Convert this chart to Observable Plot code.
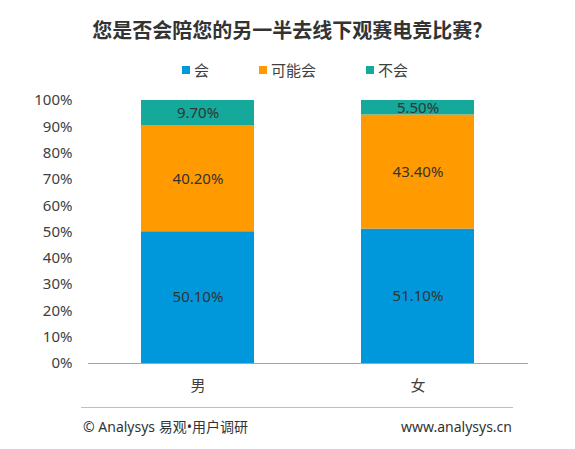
<!DOCTYPE html>
<html>
<head>
<meta charset="utf-8">
<script src="https://cdn.jsdelivr.net/npm/d3@7"></script>
<script src="https://cdn.jsdelivr.net/npm/@observablehq/plot@0.6"></script>
<style>
  html, body { margin: 0; padding: 0; background: #fff; }
  body { font-family: "Noto Sans", "Noto Sans CJK SC", sans-serif; }
  #wrap { position: relative; width: 575px; height: 449px; overflow: hidden; }
  #title { position: absolute; top: 17px; left: 0; width: 575px; text-align: center;
           font-family: "Noto Sans CJK SC", sans-serif; font-weight: bold; font-size: 20px; color: #333; line-height: 26px; }
  #legend { position: absolute; top: 60px; left: 182px; display: flex; align-items: center;
            font-family: "Noto Sans CJK SC", sans-serif; font-size: 15px; color: #404040; line-height: 20px; }
  #legend .item { display: flex; align-items: center; margin-right: 50px; }
  #legend .sw { width: 8px; height: 8px; margin-right: 4px; }
  #chart { position: absolute; top: 85px; left: 0; }
  #footline { position: absolute; top: 407px; left: 81px; width: 432px; height: 0; border-top: 1px solid #c0c0c0; }
  #footl { position: absolute; top: 417px; left: 83px; font-size: 14px; color: #333; line-height: 20px; }
  #footr { position: absolute; top: 417px; right: 63px; font-size: 14px; color: #333; line-height: 20px; }
</style>
</head>
<body>
<div id="wrap">
  <div id="title">您是否会陪您的另一半去线下观赛电竞比赛?</div>
  <div id="legend"></div>
  <div id="chart"></div>
  <div id="footline"></div>
  <div id="footl">© Analysys 易观•用户调研</div>
  <div id="footr">www.analysys.cn</div>
</div>
<script>
const genders = ["男", "女"];
const categories = ["会", "可能会", "不会"];
const maleValues = [50.1, 40.2, 9.7];
const femaleValues = [51.1, 43.4, 5.5];
const colors = ["#0098DB", "#FF9A00", "#14A99A"];
const yTicks = [0, 10, 20, 30, 40, 50, 60, 70, 80, 90, 100];

const series = [maleValues, femaleValues];
const data = [];
genders.forEach((g, gi) => {
  categories.forEach((c, ci) => {
    data.push({gender: g, category: c, value: series[gi][ci]});
  });
});

// legend
const legend = document.getElementById("legend");
categories.forEach((c, i) => {
  const item = document.createElement("div");
  item.className = "item";
  const sw = document.createElement("div");
  sw.className = "sw";
  sw.style.background = colors[i];
  const t = document.createElement("span");
  t.textContent = c;
  item.appendChild(sw);
  item.appendChild(t);
  legend.appendChild(item);
});

const chart = Plot.plot({
  width: 575,
  height: 318,
  marginTop: 15,
  marginBottom: 40,
  marginLeft: 88,
  marginRight: 47,
  style: {fontFamily: "'Noto Sans', 'Noto Sans CJK SC', sans-serif", color: "#404040", background: "transparent"},
  x: {domain: genders, paddingInner: 0.486, paddingOuter: 0.243, label: null},
  y: {domain: [0, 100], label: null},
  color: {domain: categories, range: colors},
  marks: [
    Plot.barY(data, {x: "gender", y: "value", fill: "category", order: categories}),
    Plot.ruleY([0], {stroke: "#a6a6a6", strokeWidth: 1}),
    Plot.text(data, Plot.stackY({x: "gender", y: "value", z: "category", order: categories,
      text: d => d.value.toFixed(2) + "%", fill: "#333", fontSize: 15})),
    Plot.axisY({ticks: yTicks, tickFormat: d => d + "%", tickSize: 0, tickPadding: 16, fontSize: 15, label: null}),
    Plot.axisX({tickSize: 0, tickPadding: 17, fontSize: 15, label: null, fontFamily: "'Noto Sans CJK SC', sans-serif"})
  ]
});
document.getElementById("chart").appendChild(chart);
</script>
</body>
</html>
